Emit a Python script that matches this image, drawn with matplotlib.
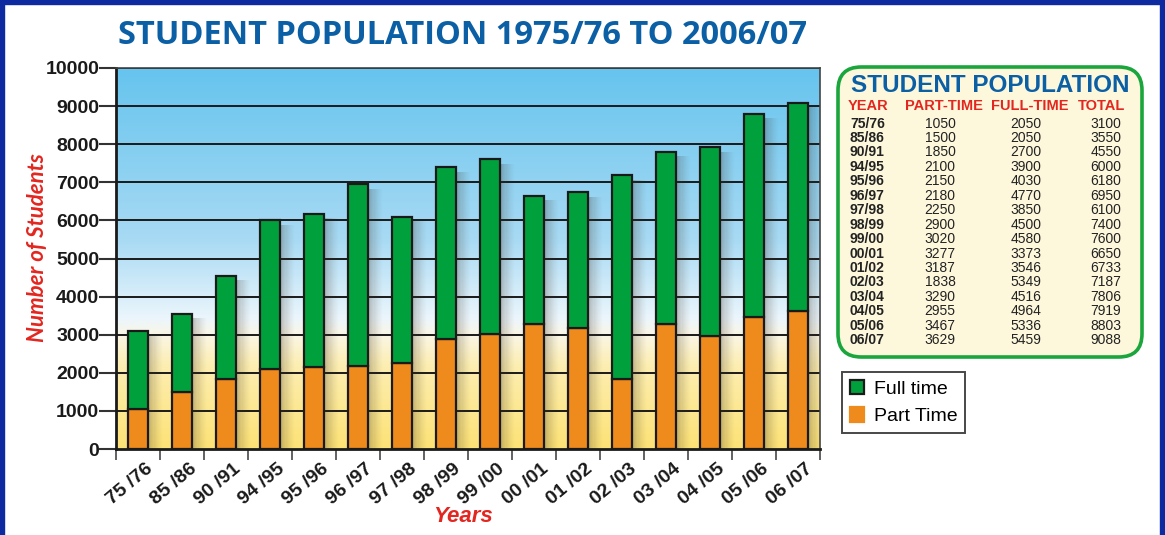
import numpy as np
import matplotlib
matplotlib.use("Agg")
import matplotlib.pyplot as plt
import matplotlib.transforms as mtrans
from matplotlib.patches import Rectangle, FancyBboxPatch
from matplotlib.colors import LinearSegmentedColormap

# Academic years and enrolment counts
years = ["75/76", "85/86", "90/91", "94/95", "95/96", "96/97", "97/98", "98/99",
         "99/00", "00/01", "01/02", "02/03", "03/04", "04/05", "05/06", "06/07"]
tick_labels = ["75 /76", "85 /86", "90 /91", "94 /95", "95 /96", "96 /97", "97 /98",
               "98 /99", "99 /00", "00 /01", "01 /02", "02 /03", "03 /04", "04 /05",
               "05 /06", "06 /07"]
part_time = [1050, 1500, 1850, 2100, 2150, 2180, 2250, 2900,
             3020, 3277, 3187, 1838, 3290, 2955, 3467, 3629]
full_time = [2050, 2050, 2700, 3900, 4030, 4770, 3850, 4500,
             4580, 3373, 3546, 5349, 4516, 4964, 5336, 5459]
totals = [3100, 3550, 4550, 6000, 6180, 6950, 6100, 7400,
          7600, 6650, 6733, 7187, 7806, 7919, 8803, 9088]

GREEN = "#00a13c"
ORANGE = "#ef8a1c"
TITLE_BLUE = "#0b5fa5"
RED = "#e3261f"

W, H = 1165, 535
fig = plt.figure(figsize=(W / 100, H / 100), dpi=100)
fig.patch.set_facecolor("white")

# Navy frame round the figure
navy = "#0d2aa0"
fig.patches.append(Rectangle((0, 1 - 4 / H), 1, 4 / H, transform=fig.transFigure,
                             color=navy, zorder=0))
fig.patches.append(Rectangle((0, 0), 4 / W, 1, transform=fig.transFigure,
                             color=navy, zorder=0))
fig.patches.append(Rectangle((1 - 5 / W, 0), 5 / W, 1, transform=fig.transFigure,
                             color=navy, zorder=0))

ax = fig.add_axes([116 / W, 1 - 449 / H, (820 - 116) / W, (449 - 68) / H])
n = len(years)
x = np.arange(n)
ax.set_xlim(-0.5, n - 0.5)
ax.set_ylim(0, 10000)

# Sky-to-sand background gradient
stops = [(0.0, (253 / 255, 226 / 255, 118 / 255)),
         (0.22, (253 / 255, 238 / 255, 178 / 255)),
         (0.30, (250 / 255, 246 / 255, 230 / 255)),
         (0.34, (236 / 255, 246 / 255, 252 / 255)),
         (0.55, (168 / 255, 218 / 255, 244 / 255)),
         (1.0, (102 / 255, 196 / 255, 238 / 255))]
cmap = LinearSegmentedColormap.from_list("bg", stops)
grad = np.linspace(0, 1, 400).reshape(-1, 1)
ax.imshow(grad, extent=[-0.5, n - 0.5, 0, 10000], origin="lower", aspect="auto",
          cmap=cmap, zorder=0, interpolation="bicubic")

width = 0.45
# Soft drop shadows to the right of each bar
for xi, tot in zip(x, totals):
    right = xi + width / 2
    steps = 14
    for k in range(steps):
        a = 0.30 * (1 - k / steps) ** 1.5
        ax.add_patch(Rectangle((right + k * 0.025, 0), 0.025, tot - 120,
                               facecolor="#3a3020", alpha=a, lw=0, zorder=1.5))

# Gridlines
for yv in range(1000, 10001, 1000):
    ax.axhline(yv, color="#1a1a1a", lw=1.4, zorder=1.2)

ax.bar(x, part_time, width, color=ORANGE, edgecolor="#1a1a1a", lw=1.6, zorder=3,
       label="Part Time")
ax.bar(x, full_time, width, bottom=part_time, color=GREEN, edgecolor="#1a1a1a",
       lw=1.6, zorder=3, label="Full time")

for s in ax.spines.values():
    s.set_color("#444444")
    s.set_linewidth(1.2)
ax.spines["left"].set_color("#1a1a1a")
ax.spines["left"].set_linewidth(2)
ax.spines["bottom"].set_color("#1a1a1a")
ax.spines["bottom"].set_linewidth(2)

ax.set_yticks(range(0, 10001, 1000))
ax.set_yticklabels([str(v) for v in range(0, 10001, 1000)],
                   fontsize=14, fontweight="bold", family="Liberation Sans",
                   color="#1a1a1a")
ax.tick_params(axis="y", length=12, width=1.5, color="#333333", pad=0)

ax.set_xticks(x)
ax.set_xticklabels(tick_labels, rotation=40, ha="right", rotation_mode="anchor",
                   fontsize=14, fontweight="bold", family="Liberation Sans",
                   color="#1a1a1a")
ax.tick_params(axis="x", length=0, pad=8)
ax.set_xticks(np.arange(-0.5, n, 1.0), minor=True)
ax.tick_params(axis="x", which="minor", length=8, width=1.3, color="#555555")
offset = mtrans.ScaledTranslation(7 / 100, 0, fig.dpi_scale_trans)
for lab in ax.get_xticklabels():
    lab.set_transform(lab.get_transform() + offset)

fig.text(38 / W, 1 - 248 / H, "Number of Students", fontsize=16, fontweight="bold",
         style="italic", color=RED, family="Lato", rotation=90,
         ha="center", va="center")
fig.text(463 / W, 1 - 516 / H, "Years", fontsize=16, fontweight="bold",
         style="italic", color=RED, family="Liberation Sans", ha="center",
         va="center")

fig.text(462 / W, 1 - 36 / H, "STUDENT POPULATION 1975/76 TO 2006/07",
         fontsize=23.5, fontweight="bold", color=TITLE_BLUE, family="Open Sans",
         ha="center", va="center")

# Legend
handles, labels = ax.get_legend_handles_labels()
leg = fig.legend([handles[1], handles[0]], ["Full time", "Part Time"],
                 loc="upper left", bbox_to_anchor=(842 / W, 1 - 372 / H),
                 borderaxespad=0, frameon=True, fancybox=False,
                 edgecolor="#1a1a1a",
                 prop={"family": "Liberation Sans", "size": 14},
                 handlelength=0.75, handleheight=0.75, handletextpad=0.5,
                 borderpad=0.4, labelspacing=0.5)
leg.get_frame().set_linewidth(1.4)
leg.legend_handles[1].set_edgecolor(ORANGE)

# Data table panel
tx0, ty0, tx1, ty1 = 838, 67, 1142, 357
box = FancyBboxPatch((tx0 / W, 1 - ty1 / H), (tx1 - tx0) / W, (ty1 - ty0) / H,
                     boxstyle="round,pad=0,rounding_size=0.02",
                     transform=fig.transFigure, facecolor="#fdf8dc",
                     edgecolor="#1aa63c", lw=2.6, zorder=1,
                     mutation_aspect=W / H)
fig.patches.append(box)

fig.text(990 / W, 1 - 86 / H, "STUDENT POPULATION", fontsize=17.5,
         fontweight="bold", color=TITLE_BLUE, family="Liberation Sans",
         ha="center", va="center")
hdr_y = 1 - 106 / H
hdr_kw = dict(fontsize=10.5, fontweight="bold", color=RED,
              family="Liberation Sans", va="center")
fig.text(848 / W, hdr_y, "YEAR", ha="left", **hdr_kw)
fig.text(944 / W, hdr_y, "PART-TIME", ha="center", **hdr_kw)
fig.text(1030 / W, hdr_y, "FULL-TIME", ha="center", **hdr_kw)
fig.text(1102 / W, hdr_y, "TOTAL", ha="center", **hdr_kw)
cell_kw = dict(fontsize=10, color="#222222", family="Liberation Sans",
               ha="center", va="center")
for i in range(n):
    yy = 1 - (123.5 + i * 14.45) / H
    fig.text(850 / W, yy, years[i], fontsize=10, fontweight="bold",
             color="#222222", family="Liberation Sans", ha="left", va="center")
    fig.text(940 / W, yy, str(part_time[i]), **cell_kw)
    fig.text(1026 / W, yy, str(full_time[i]), **cell_kw)
    fig.text(1106 / W, yy, str(totals[i]), **cell_kw)

fig.savefig("out.png", dpi=100)
